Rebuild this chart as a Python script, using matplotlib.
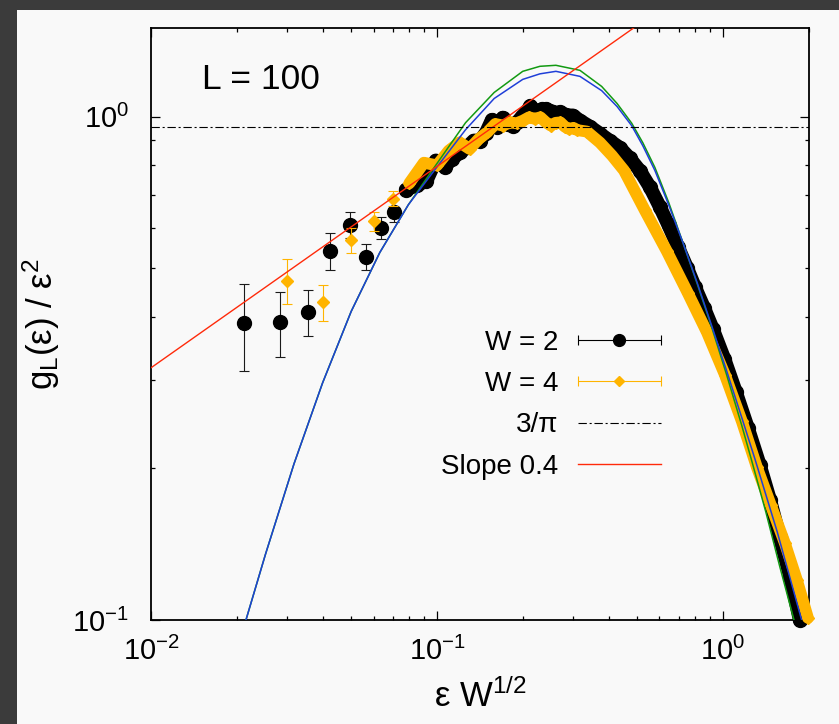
import numpy as np
import matplotlib
matplotlib.use('Agg')
import matplotlib.pyplot as plt
from matplotlib.lines import Line2D
from matplotlib.collections import LineCollection
from matplotlib.container import ErrorbarContainer
from matplotlib.legend_handler import HandlerErrorbar
from matplotlib.patches import Rectangle
from matplotlib.ticker import LogLocator, NullFormatter

FONT = ['Liberation Sans', 'DejaVu Sans']

plt.rcParams['font.family'] = FONT
plt.rcParams['mathtext.default'] = 'regular'
plt.rcParams['axes.unicode_minus'] = False
plt.rcParams['lines.scale_dashes'] = False

BLACK = '#000000'
ORANGE = '#ffb400'
GREEN = '#129a12'
BLUE = '#1f3fd8'
RED = '#ff2a0a'

# W = 2: isolated low-energy points with error bars
w2_x = [0.0212, 0.0283, 0.0354, 0.0424, 0.0495, 0.0566, 0.0637, 0.0707]
w2_y = [0.389, 0.390, 0.410, 0.541, 0.610, 0.527, 0.602, 0.647]
w2_lo = [0.312, 0.333, 0.367, 0.495, 0.574, 0.495, 0.572, 0.617]
w2_hi = [0.465, 0.448, 0.452, 0.587, 0.646, 0.559, 0.633, 0.685]

# W = 2: densely sampled part
w2_dense_x = [0.0778, 0.0849, 0.0919, 0.0990, 0.1067, 0.1131, 0.1206, 0.1273, 0.1344,
              0.1414, 0.1485, 0.1556, 0.1626, 0.1697, 0.1768, 0.1838, 0.1909, 0.1980,
              0.2050, 0.2121, 0.2192, 0.2263, 0.2333, 0.2404, 0.2475, 0.2546, 0.2616,
              0.2687, 0.2758, 0.2828, 0.2988, 0.3162, 0.3428, 0.3715, 0.4027, 0.4365,
              0.4732, 0.5129, 0.5559, 0.6026, 0.6457, 0.6966, 0.7499, 0.7980, 0.8590,
              0.9226, 1.0116, 1.1092, 1.2218, 1.3459, 1.4622, 1.5812, 1.7179, 1.8578]
w2_dense_y = [0.716, 0.730, 0.746, 0.818, 0.796, 0.825, 0.849, 0.870, 0.896,
              0.896, 0.930, 0.985, 0.955, 0.995, 0.965, 0.960, 0.975, 1.000,
              1.020, 1.050, 1.030, 1.020, 1.035, 1.036, 1.025, 1.020, 1.015,
              1.020, 1.012, 1.006, 1.005, 0.982, 0.955, 0.925, 0.895, 0.867,
              0.826, 0.780, 0.724, 0.661, 0.608, 0.551, 0.500, 0.459, 0.417,
              0.378, 0.330, 0.284, 0.241, 0.203, 0.173, 0.146, 0.122, 0.100]

# W = 4: isolated low-energy points with error bars
w4_x = [0.030, 0.040, 0.050, 0.060, 0.070]
w4_y = [0.472, 0.428, 0.570, 0.621, 0.687]
w4_lo = [0.424, 0.392, 0.537, 0.594, 0.663]
w4_hi = [0.521, 0.462, 0.601, 0.646, 0.711]

# W = 4: densely sampled part
w4_dense_x = [0.080, 0.090, 0.100, 0.110, 0.120, 0.130, 0.140, 0.150, 0.160, 0.170,
              0.180, 0.190, 0.200, 0.210, 0.220, 0.230, 0.240, 0.250, 0.260, 0.270,
              0.280, 0.290, 0.300, 0.310, 0.3345, 0.3715, 0.4093, 0.4508, 0.5337,
              0.6370, 0.7543, 0.8793, 1.0162, 1.1651, 1.3149, 1.4717, 1.6475, 1.8143,
              1.9824]
w4_dense_y = [0.737, 0.810, 0.800, 0.856, 0.889, 0.863, 0.903, 0.931, 0.967, 0.960,
              0.974, 0.970, 0.982, 0.997, 0.990, 0.997, 0.975, 0.960, 0.972, 0.974,
              0.955, 0.945, 0.950, 0.940, 0.934, 0.888, 0.837, 0.782, 0.651,
              0.540, 0.446, 0.373, 0.307, 0.248, 0.201, 0.169, 0.142, 0.120,
              0.101]

# smooth reference curves
green_x = [0.02148, 0.02512, 0.03162, 0.03981, 0.05012, 0.06310, 0.07943, 0.1000,
           0.1259, 0.1585, 0.1995, 0.2291, 0.2606, 0.3162, 0.3767, 0.4266, 0.4797,
           0.5248, 0.5783, 0.6457, 0.7244, 0.8128, 0.9131, 1.0304, 1.1626, 1.2596,
           1.4135, 1.5821, 1.7610, 1.7783]
green_y = [0.1000, 0.1349, 0.2042, 0.2958, 0.4102, 0.5370, 0.6683, 0.8070,
           0.9727, 1.1169, 1.2303, 1.2589, 1.2647, 1.2359, 1.1482, 1.0617, 0.9705,
           0.8872, 0.7925, 0.6761, 0.5623, 0.4656, 0.3819, 0.3069, 0.2440, 0.2077,
           0.1637, 0.1274, 0.1014, 0.0993]

blue_x = [0.02148, 0.02512, 0.03162, 0.03981, 0.05012, 0.06310, 0.07943, 0.1000,
          0.1259, 0.1585, 0.1995, 0.2291, 0.2606, 0.3162, 0.3767, 0.4266, 0.4797,
          0.5248, 0.5783, 0.6457, 0.7244, 0.8128, 0.9131, 1.0304, 1.1626, 1.2940,
          1.5488, 1.8850]
blue_y = [0.1000, 0.1349, 0.2042, 0.2958, 0.4102, 0.5370, 0.6683, 0.7943,
          0.9419, 1.0864, 1.1858, 1.2162, 1.2303, 1.2023, 1.1262, 1.0471, 0.9594,
          0.8750, 0.7816, 0.6683, 0.5623, 0.4677, 0.3846, 0.3126, 0.2529, 0.2089,
          0.1496, 0.1000]

slope = 0.4
slope_prefactor = 2.0
slope_x = [0.01, 0.6]

fig = plt.figure(figsize=(8.39, 7.24), dpi=100, facecolor='#3b3b3b')
fig.patches.append(Rectangle((17 / 839, 0), 1, (724 - 10) / 724,
                             transform=fig.transFigure, facecolor='#f9f9f9',
                             edgecolor='none', zorder=-1))

ax = fig.add_axes([151 / 839, (724 - 620) / 724, 658 / 839, 592 / 724])
ax.set_facecolor('#f9f9f9')
ax.set_xscale('log')
ax.set_yscale('log')

ms_circle = 10
ms_diamond = 6.3

ax.errorbar(w2_x, w2_y, yerr=[np.subtract(w2_y, w2_lo), np.subtract(w2_hi, w2_y)],
            fmt='o', color=BLACK, ms=ms_circle, ecolor='#1a1a1a', elinewidth=0.8,
            capsize=3.4, capthick=0.8, zorder=3)
ax.plot(w2_dense_x, w2_dense_y, '-o', color=BLACK, ms=ms_circle, lw=ms_circle,
        solid_capstyle='round', solid_joinstyle='round', clip_on=False, zorder=3)

ax.errorbar(w4_x, w4_y, yerr=[np.subtract(w4_y, w4_lo), np.subtract(w4_hi, w4_y)],
            fmt='D', color=ORANGE, ms=ms_diamond, ecolor=ORANGE, elinewidth=0.8,
            capsize=3.4, capthick=0.8, zorder=4)
ax.plot(w4_dense_x, w4_dense_y, '-D', color=ORANGE, ms=ms_diamond, lw=8.5,
        solid_capstyle='round', solid_joinstyle='round', clip_on=False, zorder=4)

ax.plot(green_x, green_y, color=GREEN, lw=1.1, zorder=5)
ax.plot(blue_x, blue_y, color=BLUE, lw=1.1, zorder=6)

sx = np.array(slope_x)
ax.plot(sx, slope_prefactor * sx ** slope, color=RED, lw=1.0, zorder=7)
dashdot = (6, 2, 1.5, 2)
ax.axhline(3 / np.pi, color=BLACK, lw=0.8, dashes=dashdot, zorder=7)

ax.set_xlim(0.01, 2.0)
ax.set_ylim(0.1, 1.5)

for axis in (ax.xaxis, ax.yaxis):
    axis.set_major_locator(LogLocator(base=10))
    axis.set_minor_locator(LogLocator(base=10, subs=np.arange(2, 10)))
    axis.set_minor_formatter(NullFormatter())
ax.tick_params(which='both', direction='in', top=True, right=True, width=0.9,
               labelsize=21)
ax.tick_params(which='major', length=6.5)
ax.tick_params(which='minor', length=3.2)
ax.tick_params(axis='x', pad=12)
ax.tick_params(axis='y', pad=16)
for sp in ax.spines.values():
    sp.set_linewidth(1.3)

ax.set_xlabel('ε W$^{1/2}$', fontsize=25, labelpad=9)
ax.set_ylabel('g$_L$(ε) / ε$^2$', fontsize=25, labelpad=7)

ax.text(0.0775, 0.897, 'L = 100', transform=ax.transAxes, fontsize=25.5,
        va='baseline', ha='left')


def errorbar_proxy(marker, color, ms, label):
    line = Line2D([], [], marker=marker, color=color, ms=ms, ls='none')
    cap = Line2D([], [], marker='|', color=color, ms=6.5, mew=0.8, ls='none')
    bar = LineCollection([], colors=color, linewidths=0.8)
    return ErrorbarContainer((line, (cap,), (bar,)), has_xerr=True,
                             has_yerr=False, label=label)


h_w2 = errorbar_proxy('o', BLACK, 8.5, 'W = 2')
h_w4 = errorbar_proxy('D', ORANGE, 5.2, 'W = 4')
h_pi = Line2D([], [], color=BLACK, lw=0.8, dashes=dashdot, label='3/π')
h_sl = Line2D([], [], color=RED, lw=1.0, label='Slope 0.4')

err_handler = HandlerErrorbar(xerr_size=1.5)
ax.legend(handles=[h_w2, h_w4, h_pi, h_sl],
          handler_map={h_w2: err_handler, h_w4: err_handler},
          loc='upper right', bbox_to_anchor=(0.775, 0.49), frameon=False,
          markerfirst=False, prop={'size': 20},
          handlelength=3.0, handletextpad=0.7, labelspacing=0.55,
          borderpad=0, borderaxespad=0)

fig.savefig('out.png', dpi=100, facecolor=fig.get_facecolor())
